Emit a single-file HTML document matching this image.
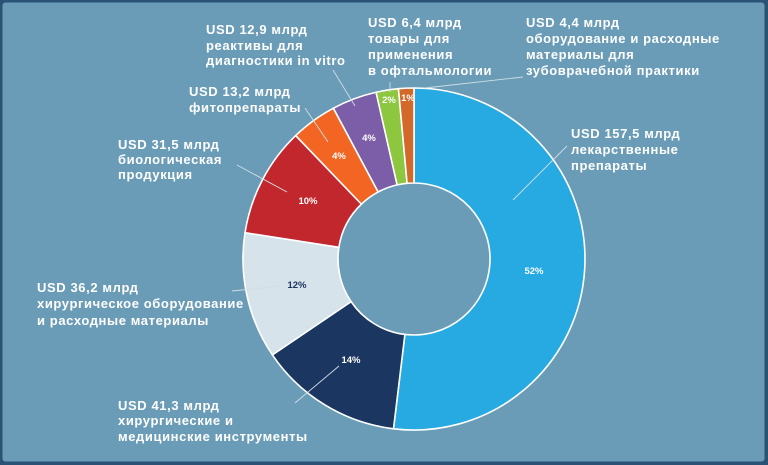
<!DOCTYPE html>
<html><head><meta charset="utf-8"><style>
html,body{margin:0;padding:0;background:#6a9cb8;}
svg{display:block}
text{font-family:"Liberation Sans",sans-serif;font-weight:bold;fill:#fff;}
.l{font-size:13px;letter-spacing:0.6px}
.p{font-size:9.5px}
</style></head><body>
<svg id="s" width="768" height="465" viewBox="0 0 768 465" xmlns="http://www.w3.org/2000/svg">
<rect x="0" y="0" width="768" height="465" fill="#2a5274"/>
<rect x="2.5" y="2.5" width="762" height="459" rx="3" fill="#6a9cb8"/>
<g id="slices"></g>
<g stroke="#d0dde4" stroke-width="0.9" fill="none">
<line x1="333" y1="70" x2="355" y2="106"/>
<line x1="305" y1="108" x2="328" y2="142"/>
<line x1="237" y1="165" x2="287" y2="192"/>
<line x1="567" y1="146" x2="513" y2="200"/>
<line x1="232" y1="291" x2="281" y2="286"/>
<line x1="295" y1="403" x2="339" y2="366"/>
<line x1="390" y1="82" x2="390" y2="92"/>
<line x1="523" y1="77" x2="425" y2="88"/>
</g>
<g class="l">
<text x="206" y="34">USD 12,9 млрд</text>
<text x="206" y="50">реактивы для</text>
<text x="206" y="65">диагностики in vitro</text>
<text x="189" y="96">USD 13,2 млрд</text>
<text x="189" y="112">фитопрепараты</text>
<text x="118" y="149">USD 31,5 млрд</text>
<text x="118" y="164">биологическая</text>
<text x="118" y="179">продукция</text>
<text x="368" y="27">USD 6,4 млрд</text>
<text x="368" y="43">товары для</text>
<text x="368" y="59">применения</text>
<text x="368" y="75">в офтальмологии</text>
<text x="526" y="27">USD 4,4 млрд</text>
<text x="526" y="43">оборудование и расходные</text>
<text x="526" y="59">материалы для</text>
<text x="526" y="75">зубоврачебной практики</text>
<text x="571" y="138">USD 157,5 млрд</text>
<text x="571" y="154">лекарственные</text>
<text x="571" y="170">препараты</text>
<text x="37" y="292">USD 36,2 млрд</text>
<text x="37" y="308">хирургическое оборудование</text>
<text x="37" y="325">и расходные материалы</text>
<text x="118" y="410">USD 41,3 млрд</text>
<text x="118" y="425">хирургические и</text>
<text x="118" y="441">медицинские инструменты</text>
</g>
<g class="p" text-anchor="middle">
<text x="534" y="274">52%</text>
<text x="351" y="363">14%</text>
<text x="297" y="288" style="fill:#1b3660">12%</text>
<text x="308" y="204">10%</text>
<text x="339" y="159">4%</text>
<text x="369" y="141">4%</text>
<text x="389" y="103">2%</text>
<text x="408" y="101">1%</text>
</g>
</svg>
<script>
var cx=414,cy=259,R=171,r=76;
var v=[157.5,41.3,36.2,31.5,13.2,12.9,6.4,4.4];
var c=["#27aae1","#1b3660","#d6e3ea","#c1272d","#f26522","#7b5ea7","#8dc63f","#d2692a"];
var t=v.reduce(function(a,b){return a+b},0),a=0,h="";
function P(rad,ang){return (cx+rad*Math.sin(ang)).toFixed(2)+","+(cy-rad*Math.cos(ang)).toFixed(2);}
for(var i=0;i<v.length;i++){var s=a,e=a+v[i]/t*2*Math.PI,l=(e-s)>Math.PI?1:0;
h+='<path d="M'+P(R,s)+' A'+R+','+R+' 0 '+l+' 1 '+P(R,e)+' L'+P(r,e)+' A'+r+','+r+' 0 '+l+' 0 '+P(r,s)+' Z" fill="'+c[i]+'" stroke="#fff" stroke-width="1.6" stroke-linejoin="round"/>';a=e;}
document.getElementById("slices").innerHTML=h;
</script>
</body></html>
